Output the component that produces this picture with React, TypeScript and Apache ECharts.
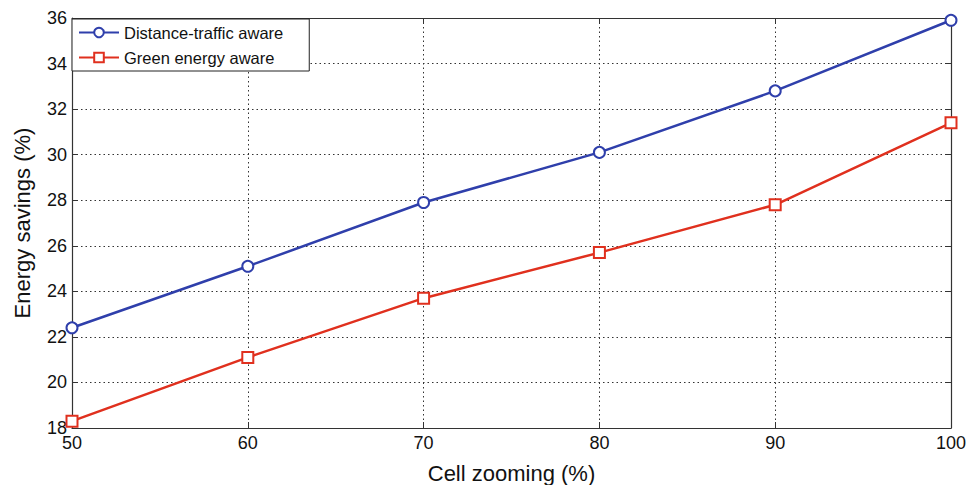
import React, { useEffect, useRef } from "react";
import * as echarts from "echarts";

const xValues = [50, 60, 70, 80, 90, 100];
const distanceTraffic = [22.4, 25.1, 27.9, 30.1, 32.8, 35.9];
const greenEnergy = [18.3, 21.1, 23.7, 25.7, 27.8, 31.4];
const seriesNames = ["Distance-traffic aware", "Green energy aware"];

export default function App() {
  const ref = useRef<HTMLDivElement>(null);
  useEffect(() => {
    if (!ref.current) return;
    const chart = echarts.init(ref.current, null, { renderer: "svg" });
    const font = "Liberation Sans, Arial, sans-serif";
    const axisCommon = {
      type: "value" as const,
      axisLine: { show: true, onZero: false, lineStyle: { color: "#333", width: 1.2 } },
      axisTick: { show: true, inside: true, length: 6, lineStyle: { color: "#333" } },
    };
    chart.setOption({
      animation: false,
      backgroundColor: "#fff",
      grid: { left: 72, right: 15, top: 18, bottom: 57, containLabel: false, outerBoundsMode: "none" },
      legend: {
        left: 72,
        top: 19,
        orient: "vertical",
        data: seriesNames,
        backgroundColor: "#fff",
        borderColor: "#222",
        borderWidth: 1,
        padding: [5, 26, 5, 6],
        itemGap: 8,
        itemWidth: 40,
        itemHeight: 12,
        textStyle: { fontFamily: font, fontSize: 16.5, lineHeight: 17, color: "#111" },
      },
      xAxis: [
        {
          ...axisCommon,
          min: 50,
          max: 100,
          interval: 10,
          name: "Cell zooming (%)",
          nameLocation: "middle",
          nameGap: 34,
          nameTextStyle: { fontFamily: font, fontSize: 22, color: "#111" },
          axisLabel: { fontFamily: font, fontSize: 18, color: "#111", margin: 6 },
          splitLine: { show: true, lineStyle: { type: [1.5, 3], color: "#333", width: 1 } },
        },
        {
          ...axisCommon,
          position: "top",
          min: 50,
          max: 100,
          interval: 10,
          axisLabel: { show: false },
          splitLine: { show: false },
        },
      ],
      yAxis: [
        {
          ...axisCommon,
          min: 18,
          max: 36,
          interval: 2,
          name: "Energy savings (%)",
          nameLocation: "middle",
          nameGap: 39,
          nameTextStyle: { fontFamily: font, fontSize: 22, color: "#111" },
          axisLabel: { fontFamily: font, fontSize: 18, color: "#111", margin: 5 },
          splitLine: { show: true, lineStyle: { type: [1.5, 3], color: "#333", width: 1 } },
        },
        {
          ...axisCommon,
          position: "right",
          min: 18,
          max: 36,
          interval: 2,
          axisLabel: { show: false },
          splitLine: { show: false },
        },
      ],
      series: [
        {
          name: seriesNames[0],
          type: "line",
          data: xValues.map((x, i) => [x, distanceTraffic[i]]),
          symbol: "emptyCircle",
          symbolSize: 11,
          lineStyle: { color: "#2f3fab", width: 2.5 },
          itemStyle: { color: "#2f3fab", borderWidth: 2 },
        },
        {
          name: seriesNames[1],
          type: "line",
          data: xValues.map((x, i) => [x, greenEnergy[i]]),
          symbol: "emptyRect",
          symbolSize: 11,
          lineStyle: { color: "#e0301e", width: 2.5 },
          itemStyle: { color: "#e0301e", borderWidth: 2 },
        },
      ],
    });
    return () => chart.dispose();
  }, []);
  return <div ref={ref} style={{ width: 966, height: 485, position: "absolute", left: 0, top: 0 }} />;
}
